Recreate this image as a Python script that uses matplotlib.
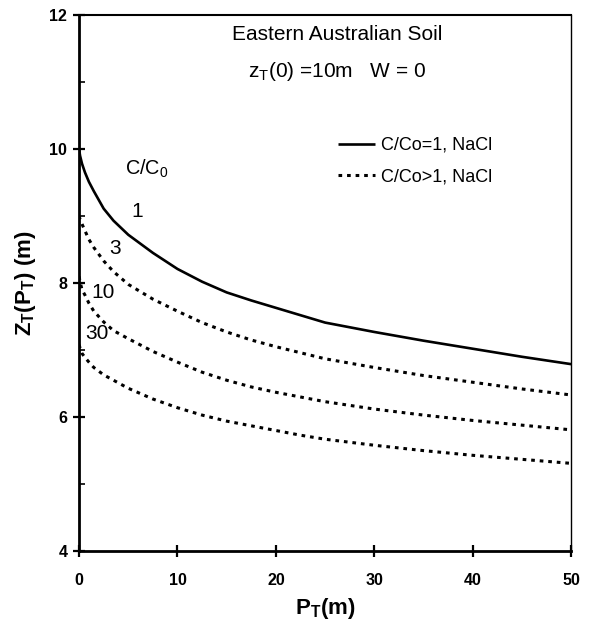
import matplotlib
matplotlib.use("Agg")
import matplotlib.pyplot as plt
from matplotlib.ticker import MultipleLocator

plt.rcParams['font.family'] = ['Liberation Sans', 'DejaVu Sans']
plt.rcParams['mathtext.fontset'] = 'custom'
plt.rcParams['mathtext.rm'] = 'Liberation Sans'
plt.rcParams['mathtext.it'] = 'Liberation Sans'
plt.rcParams['mathtext.bf'] = 'Liberation Sans:bold'

# Data
p_t = [0, 0.1, 0.3, 0.6, 1, 1.5, 2.5, 3.5, 5, 7.5, 10, 12.5, 15, 17.5, 20, 22.5, 25, 30, 35, 40, 45, 50]
z_c1 = [10.0, 9.90, 9.78, 9.65, 9.51, 9.37, 9.11, 8.93, 8.72, 8.45, 8.21, 8.02, 7.86, 7.74, 7.63, 7.52, 7.41, 7.27, 7.14, 7.02, 6.90, 6.79]
z_c3 = [9.0, 8.95, 8.88, 8.78, 8.65, 8.53, 8.33, 8.17, 7.98, 7.76, 7.58, 7.41, 7.27, 7.15, 7.05, 6.96, 6.87, 6.74, 6.62, 6.52, 6.42, 6.33]
z_c10 = [8.1, 8.02, 7.90, 7.82, 7.70, 7.58, 7.42, 7.29, 7.17, 6.98, 6.82, 6.67, 6.55, 6.45, 6.37, 6.30, 6.23, 6.12, 6.03, 5.95, 5.88, 5.81]
z_c30 = [7.08, 7.03, 6.95, 6.89, 6.82, 6.74, 6.63, 6.55, 6.43, 6.27, 6.14, 6.03, 5.94, 5.87, 5.80, 5.73, 5.67, 5.58, 5.50, 5.43, 5.37, 5.31]

curve_labels = ["1", "3", "10", "30"]
label_pos_x = [5.9, 3.7, 2.4, 1.8]
label_pos_y = [9.07, 8.52, 7.86, 7.24]

fig = plt.figure(figsize=(5.9, 6.2), dpi=100)
ax = fig.add_axes([0.134, 0.111, 0.834, 0.865])

dot = (0, (1.2, 1.6))
ax.plot(p_t, z_c1, color='black', lw=1.9, solid_capstyle='butt', label='C/Co=1, NaCl')
ax.plot(p_t, z_c3, color='black', lw=2.2, linestyle=dot, label='C/Co>1, NaCl')
ax.plot(p_t, z_c10, color='black', lw=2.2, linestyle=dot)
ax.plot(p_t, z_c30, color='black', lw=2.2, linestyle=dot)

ax.set_xlim(0, 50)
ax.set_ylim(4, 12)
ax.xaxis.set_major_locator(MultipleLocator(10))
ax.yaxis.set_major_locator(MultipleLocator(2))
ax.yaxis.set_minor_locator(MultipleLocator(1))

ax.tick_params(axis='both', which='major', direction='inout', length=9, width=1.6,
               labelsize=11.5, top=False, right=False)
ax.tick_params(axis='y', which='minor', direction='in', length=4, width=1.2)
ax.tick_params(axis='x', which='major', pad=11)
ax.tick_params(axis='y', which='major', pad=4)
for lab in ax.get_xticklabels() + ax.get_yticklabels():
    lab.set_fontweight('bold')

ax.spines['left'].set_linewidth(2.0)
ax.spines['bottom'].set_linewidth(2.0)
ax.spines['top'].set_linewidth(1.5)
ax.spines['right'].set_linewidth(1.0)

ax.set_xlabel(r'P$_{\mathbf{T}}$(m)', fontsize=16, fontweight='bold', labelpad=6)
ax.set_ylabel(r'Z$_{\mathbf{T}}$(P$_{\mathbf{T}}$) (m)', fontsize=16, fontweight='bold', labelpad=8)

ax.text(26.2, 11.70, 'Eastern Australian Soil', fontsize=15, ha='center', va='center')
ax.text(26.2, 11.15, r'z$_\mathrm{T}$(0) =10m   W = 0', fontsize=15, ha='center', va='center')

ax.text(6.9, 9.7, r'C/C$_0$', fontsize=14.3, ha='center', va='center')
for lab, lx, ly in zip(curve_labels, label_pos_x, label_pos_y):
    ax.text(lx, ly, lab, fontsize=15, ha='center', va='center')

ax.legend(loc='upper left', bbox_to_anchor=(0.512, 0.786), frameon=False,
          fontsize=13, handlelength=2.05, handletextpad=0.3, labelspacing=0.8,
          borderaxespad=0)

fig.savefig('out.png', dpi=100)
